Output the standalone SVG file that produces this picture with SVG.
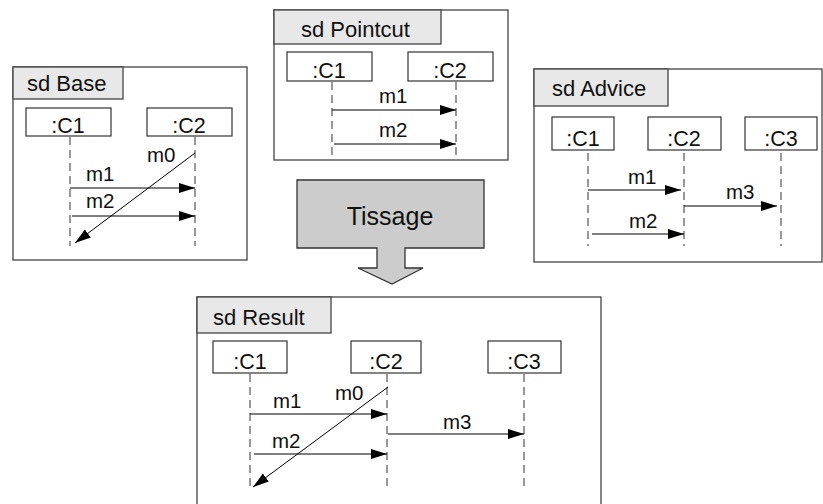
<svg xmlns="http://www.w3.org/2000/svg" width="823" height="504" viewBox="0 0 823 504">
<style>
.frame{fill:#fff;stroke:#444;stroke-width:1.3}
.tab{fill:#e8e8e8;stroke:#444;stroke-width:1.3}
.box{fill:#fff;stroke:#333;stroke-width:1.2}
.life{stroke:#555;stroke-width:1.2;stroke-dasharray:8 5;fill:none}
.msg{stroke:#000;stroke-width:1;fill:none;marker-end:url(#ah)}
text{font-family:"Liberation Sans",Arial,sans-serif;fill:#111}
.t{font-size:22px}
.n{font-size:21.5px;text-anchor:middle}
.m{font-size:20.5px}
</style>
<defs>
<marker id="ah" markerUnits="userSpaceOnUse" markerWidth="17" markerHeight="11" refX="16" refY="5.5" orient="auto">
<path d="M0,0.5 L16,5.5 L0,10.5 z" fill="#000"/>
</marker>
</defs>

<g id="base">
<rect class="frame" x="13" y="67" width="234" height="193"/>
<rect class="tab" x="13" y="67" width="110" height="32"/>
<text class="t" x="27" y="91">sd Base</text>
<rect class="box" x="26" y="108" width="85" height="28"/>
<text class="n" x="68" y="133">:C1</text>
<rect class="box" x="147" y="108" width="85" height="28"/>
<text class="n" x="189" y="133">:C2</text>
<text class="m" x="147" y="162">m0</text>
<text class="m" x="86" y="181">m1</text>
<text class="m" x="86" y="208">m2</text>
</g>

<g id="pointcut">
<rect class="frame" x="274" y="10" width="234" height="150"/>
<rect class="tab" x="274" y="10" width="167" height="34"/>
<text class="t" x="301" y="37">sd Pointcut</text>
<rect class="box" x="287" y="52" width="85" height="29"/>
<text class="n" x="329" y="78">:C1</text>
<rect class="box" x="408" y="52" width="85" height="29"/>
<text class="n" x="450" y="78">:C2</text>
<text class="m" x="379" y="103">m1</text>
<text class="m" x="379" y="137">m2</text>
</g>

<g id="advice">
<rect class="frame" x="534" y="69" width="288" height="193"/>
<rect class="tab" x="534" y="69" width="134" height="37"/>
<text class="t" x="552" y="96">sd Advice</text>
<rect class="box" x="552" y="117" width="62" height="33"/>
<text class="n" x="583" y="146">:C1</text>
<rect class="box" x="648" y="117" width="73" height="33"/>
<text class="n" x="684" y="146">:C2</text>
<rect class="box" x="745" y="117" width="72" height="33"/>
<text class="n" x="781" y="146">:C3</text>
<text class="m" x="628" y="184">m1</text>
<text class="m" x="726" y="199">m3</text>
<text class="m" x="629" y="228">m2</text>
</g>

<g id="tissage">
<path d="M297,180 H484 V248 H405 V268 H423 L392,284 L358,268 H377 V248 H297 Z" fill="#cccccc" stroke="#333" stroke-width="1.3"/>
<text x="390" y="225" font-size="25" text-anchor="middle">Tissage</text>
</g>

<g id="result">
<rect class="frame" x="197" y="297" width="404" height="215"/>
<rect class="tab" x="197" y="297" width="134" height="36"/>
<text class="t" x="213" y="325">sd Result</text>
<rect class="box" x="213" y="341" width="74" height="32"/>
<text class="n" x="250" y="369">:C1</text>
<rect class="box" x="351" y="341" width="70" height="32"/>
<text class="n" x="386" y="369">:C2</text>
<rect class="box" x="488" y="341" width="73" height="32"/>
<text class="n" x="524" y="369">:C3</text>
<text class="m" x="335" y="400">m0</text>
<text class="m" x="273" y="408">m1</text>
<text class="m" x="272" y="448">m2</text>
<text class="m" x="443" y="429">m3</text>
</g>

<g id="connectors">
<line class="life" x1="70" y1="137" x2="70" y2="246"/>
<line class="life" x1="195" y1="137" x2="195" y2="246"/>
<line class="msg" x1="70" y1="188" x2="195" y2="188"/>
<line class="msg" x1="72" y1="216" x2="195" y2="216"/>
<line class="msg" x1="195" y1="153" x2="75" y2="243"/>

<line class="life" x1="332" y1="82" x2="332" y2="158"/>
<line class="life" x1="456" y1="82" x2="456" y2="158"/>
<line class="msg" x1="332" y1="110" x2="456" y2="110"/>
<line class="msg" x1="334" y1="144" x2="456" y2="144"/>

<line class="life" x1="588" y1="153" x2="588" y2="246"/>
<line class="life" x1="684" y1="153" x2="684" y2="246"/>
<line class="life" x1="781" y1="153" x2="781" y2="246"/>
<line class="msg" x1="588" y1="190" x2="681" y2="190"/>
<line class="msg" x1="684" y1="206" x2="777" y2="206"/>
<line class="msg" x1="592" y1="234" x2="684" y2="234"/>

<line class="life" x1="250" y1="374" x2="250" y2="491"/>
<line class="life" x1="387" y1="374" x2="387" y2="491"/>
<line class="life" x1="524" y1="374" x2="524" y2="491"/>
<line class="msg" x1="250" y1="414" x2="387" y2="414"/>
<line class="msg" x1="254" y1="454" x2="387" y2="454"/>
<line class="msg" x1="388" y1="434" x2="524" y2="434"/>
<line class="msg" x1="388" y1="387" x2="253" y2="487"/>
</g>
</svg>
